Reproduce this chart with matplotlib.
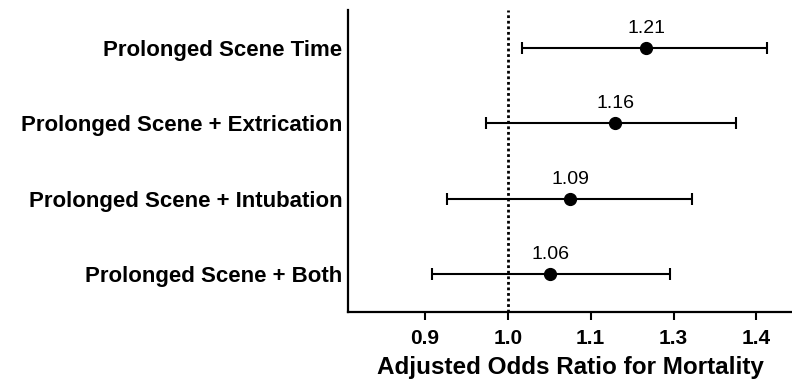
import matplotlib
matplotlib.use("Agg")
import matplotlib.pyplot as plt
import numpy as np


CATEGORIES = [
    "Prolonged Scene Time",
    "Prolonged Scene + Extrication",
    "Prolonged Scene + Intubation",
    "Prolonged Scene + Both",
]
ODDS_RATIOS = [1.21, 1.16, 1.09, 1.06]
CI_LOWER = [1.02, 0.97, 0.92, 0.90]
CI_UPPER = [1.43, 1.37, 1.29, 1.25]

# log-scale ticks spaced evenly, labelled with rounded values
TICK_VALUES = [0.892, 1.0, 1.121, 1.257, 1.409]
TICK_LABELS = ["0.9", "1.0", "1.1", "1.3", "1.4"]


def main():
    plt.rcParams["font.family"] = ["Liberation Sans", "DejaVu Sans"]

    fig = plt.figure(figsize=(7.92, 3.89), dpi=100)
    ax = fig.add_axes([0.4394, 0.198, 0.5606, 0.776])

    y = np.arange(len(CATEGORIES), 0, -1)
    ors = np.array(ODDS_RATIOS)
    lower_err = ors - np.array(CI_LOWER)
    upper_err = np.array(CI_UPPER) - ors

    ax.axvline(1.0, color="black", linestyle=(0, (1, 1)), linewidth=2,
               zorder=1)

    ax.errorbar(
        ors,
        y,
        xerr=[lower_err, upper_err],
        fmt="o",
        color="black",
        markersize=8.5,
        elinewidth=1.5,
        capsize=4.5,
        capthick=1.5,
        zorder=3,
    )

    for value, pos in zip(ODDS_RATIOS, y):
        ax.annotate(
            f"{value:.2f}",
            xy=(value, pos),
            xytext=(0, 8),
            textcoords="offset points",
            ha="center",
            va="bottom",
            fontsize=14,
        )

    ax.set_xscale("log")
    ax.set_xlim(0.802, 1.48)
    ax.set_ylim(0.5, 4.5)

    ax.set_xticks(TICK_VALUES)
    ax.set_xticklabels(TICK_LABELS, fontsize=15, fontweight="bold")
    ax.xaxis.set_minor_locator(matplotlib.ticker.NullLocator())
    ax.set_yticks(y)
    ax.set_yticklabels(CATEGORIES, fontsize=16, fontweight="bold")

    ax.tick_params(axis="x", direction="out", length=6, width=1.5, pad=6)
    ax.tick_params(axis="y", length=0, pad=4)

    ax.set_xlabel("Adjusted Odds Ratio for Mortality", fontsize=17.5,
                  fontweight="bold", labelpad=6)

    ax.spines["top"].set_visible(False)
    ax.spines["right"].set_visible(False)
    ax.spines["left"].set_linewidth(1.6)
    ax.spines["bottom"].set_linewidth(1.6)

    fig.savefig("out.png", dpi=100)
    plt.close(fig)


if __name__ == "__main__":
    main()
